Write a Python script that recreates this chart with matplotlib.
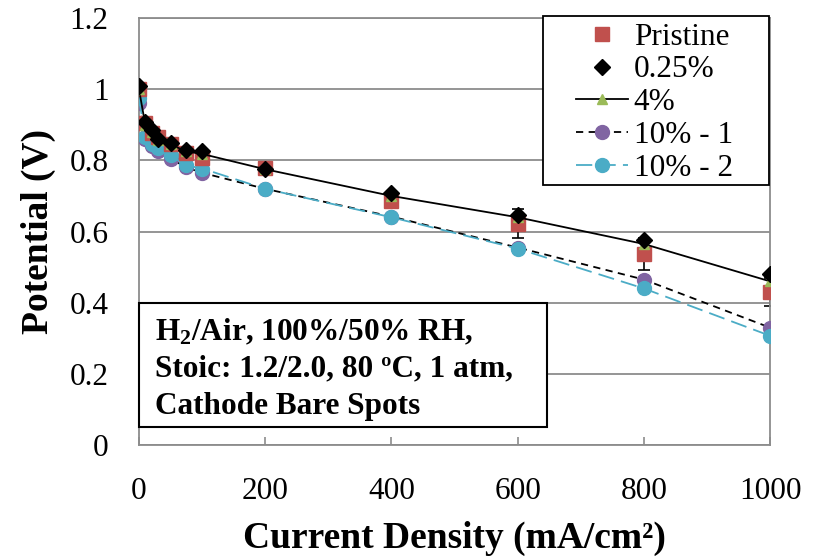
import numpy as np
import matplotlib
matplotlib.use("Agg")
import matplotlib.pyplot as plt
from matplotlib.patches import Rectangle

plt.rcParams['font.family'] = ['Liberation Serif', 'DejaVu Serif']
plt.rcParams['mathtext.fontset'] = 'custom'
plt.rcParams['mathtext.rm'] = 'Liberation Serif'
plt.rcParams['mathtext.bf'] = 'Liberation Serif:bold'

# current density (mA/cm2)
current = [0, 10, 20, 30, 50, 75, 100, 200, 400, 600, 800, 1000]

# potential (V) for each sample
pristine = [1.00, 0.905, 0.876, 0.865, 0.846, 0.82, 0.806, 0.778, 0.685, 0.622, 0.538, 0.43]
pristine_err = [0.005, 0.005, 0.005, 0.005, 0.005, 0.005, 0.008, 0.01, 0.015, 0.04, 0.045, 0.04]
p025 = [1.01, 0.907, 0.885, 0.86, 0.85, 0.828, 0.825, 0.775, 0.707, 0.645, 0.577, 0.482]
p4 = [1.0, 0.90, 0.88, 0.858, 0.845, 0.825, 0.818, 0.775, 0.70, 0.64, 0.565, 0.46]
p10_1 = [0.96, 0.86, 0.84, 0.825, 0.805, 0.78, 0.765, 0.72, 0.642, 0.555, 0.465, 0.33]
p10_2 = [0.975, 0.865, 0.845, 0.834, 0.814, 0.786, 0.777, 0.72, 0.64, 0.552, 0.44, 0.307]

xticks = [0, 200, 400, 600, 800, 1000]
yticks = [0, 0.2, 0.4, 0.6, 0.8, 1.0, 1.2]

fig = plt.figure(figsize=(8.17, 5.59), dpi=100)
ax = fig.add_axes([0.1701, 0.2039, 0.7724, 0.7639])

grey = '#8c8c8c'

ax.errorbar(current, pristine, yerr=pristine_err, fmt='none', ecolor='black',
            elinewidth=1.2, capsize=4, capthick=1.2, zorder=2)
ax.plot(current, p10_1, color='black', linestyle=(0, (4, 3)), linewidth=1.3,
        marker='o', markersize=10, markerfacecolor='#8064A2',
        markeredgecolor='#8064A2', label='10% - 1', zorder=3)
ax.plot(current, p10_2, color='#4BACC6', linestyle=(0, (9, 4)), linewidth=1.3,
        marker='o', markersize=10, markerfacecolor='#4BACC6',
        markeredgecolor='#4BACC6', label='10% - 2', zorder=4)
ax.plot(current, pristine, linestyle='none', marker='s', markersize=10,
        color='#C0504D', label='Pristine', zorder=5)
ax.plot(current, p4, color='black', linewidth=1.3, marker='^', markersize=7,
        markerfacecolor='#9BBB59', markeredgecolor='#9BBB59', label='4%', zorder=6)
ax.plot(current, p025, linestyle='none', marker='D', markersize=8,
        color='black', label='0.25%', zorder=7)

ax.set_xlim(0, 1000)
ax.set_ylim(0, 1.2)
ax.set_xticks(xticks)
ax.set_yticks(yticks)
ax.set_yticklabels(['%g' % v for v in yticks])
ax.yaxis.grid(True, color=grey, linewidth=1.3)
ax.set_axisbelow(True)
for s in ax.spines.values():
    s.set_color(grey)
    s.set_linewidth(1.3)
ax.tick_params(axis='x', direction='in', length=6, width=1.2, color=grey,
               labelsize=22.5, pad=23)
ax.tick_params(axis='y', length=0, labelsize=22.5, pad=22)

ax.set_xlabel('Current Density (mA/cm²)', fontsize=27, fontweight='bold', labelpad=11)
ax.set_ylabel('Potential (V)', fontsize=27, fontweight='bold', labelpad=10)

# legend with a wide Excel-style frame drawn separately
handles, labels = ax.get_legend_handles_labels()
order = ['Pristine', '0.25%', '4%', '10% - 1', '10% - 2']
hl = dict(zip(labels, handles))
leg = ax.legend([hl[k] for k in order], order, loc='upper left',
                bbox_to_anchor=(0.6926, 0.989), borderaxespad=0, fontsize=22.5,
                frameon=False, labelspacing=0.12, handlelength=1.66,
                handletextpad=0.19, borderpad=0)
leg.set_zorder(11)
ax.add_patch(Rectangle((0.6403, 0.6089), 0.358, 0.3958, transform=ax.transAxes,
                       facecolor='white', edgecolor='black', linewidth=1.3,
                       zorder=10, clip_on=False))

# condition box
ax.add_patch(Rectangle((0.0, 0.042), 0.647, 0.29, transform=ax.transAxes,
                       facecolor='white', edgecolor='black', linewidth=1.5,
                       zorder=8, clip_on=False))
info = [r'$\mathbf{H_2}$/Air, 100%/50% RH,',
        'Stoic: 1.2/2.0, 80 ºC, 1 atm,',
        'Cathode Bare Spots']
for i, line in enumerate(info):
    ax.text(0.026, 0.265 - i * 0.087, line, transform=ax.transAxes,
            fontsize=22.5, fontweight='bold', va='center', ha='left', zorder=9)

fig.savefig('out.png', dpi=100)
